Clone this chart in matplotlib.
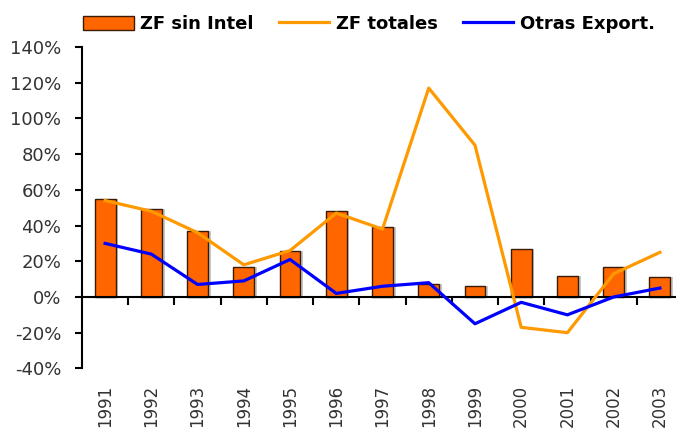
import matplotlib
matplotlib.use('Agg')
import matplotlib.pyplot as plt
from matplotlib.ticker import FixedLocator, FuncFormatter
import numpy as np

years = ['1991', '1992', '1993', '1994', '1995', '1996', '1997',
         '1998', '1999', '2000', '2001', '2002', '2003']
zf_sin_intel = [55, 49, 37, 17, 26, 48, 39, 7, 6, 27, 12, 17, 11]
zf_totales = [54, 48, 36, 18, 26, 47, 38, 117, 85, -17, -20, 13, 25]
otras_export = [30, 24, 7, 9, 21, 2, 6, 8, -15, -3, -10, 0, 5]

plt.rcParams['font.family'] = ['DejaVu Sans']

fig = plt.figure(figsize=(6.76, 4.30), dpi=100)
ax = fig.add_axes([82 / 676, 1 - 368.4 / 430, 601 / 676, (368.4 - 47) / 430])

x = np.arange(len(years))
# soft shadow behind the bars
ax.bar(x + 0.06, zf_sin_intel, width=0.45, color='#c8c8c8', zorder=1,
       edgecolor='none')
bars = ax.bar(x, zf_sin_intel, width=0.45, color='#FF6600',
              edgecolor='#3a1a00', linewidth=1.0, zorder=2,
              label='ZF sin Intel')
l1, = ax.plot(x, zf_totales, color='#FF9900', linewidth=2.3, zorder=3,
              label='ZF totales')
l2, = ax.plot(x, otras_export, color='#0000FF', linewidth=2.3, zorder=4,
              label='Otras Export.')

ax.set_xlim(-0.5, len(years) - 0.5)
ax.set_ylim(-40, 140)
ax.set_yticks(range(-40, 141, 20))
ax.yaxis.set_major_formatter(FuncFormatter(lambda v, p: f'{int(v)}%'))

for s in ['top', 'right']:
    ax.spines[s].set_visible(False)
ax.spines['bottom'].set_position(('data', 0))
ax.spines['left'].set_linewidth(1.5)
ax.spines['bottom'].set_linewidth(1.5)

ax.xaxis.set_major_locator(FixedLocator(x[:-1] + 0.5))
ax.xaxis.set_major_formatter(FuncFormatter(lambda v, p: ''))
ax.tick_params(axis='x', direction='out', length=6, width=1.5)
ax.tick_params(axis='y', direction='out', length=5, width=1.5, pad=10,
               labelsize=13, labelcolor='#333333')

for i, yr in enumerate(years):
    ax.text(i, -49, yr, rotation=90, ha='center', va='top',
            fontsize=12, color='#333333', clip_on=False)

fig.legend(handles=[bars, l1, l2], loc='center left',
           bbox_to_anchor=(74 / 676, 1 - 24 / 430),
           ncol=3, frameon=False, handlelength=2.8, handleheight=0.8,
           handletextpad=0.35, columnspacing=1.4, borderpad=0,
           prop={'weight': 'bold', 'size': 13})

fig.savefig('out.png', dpi=100)
